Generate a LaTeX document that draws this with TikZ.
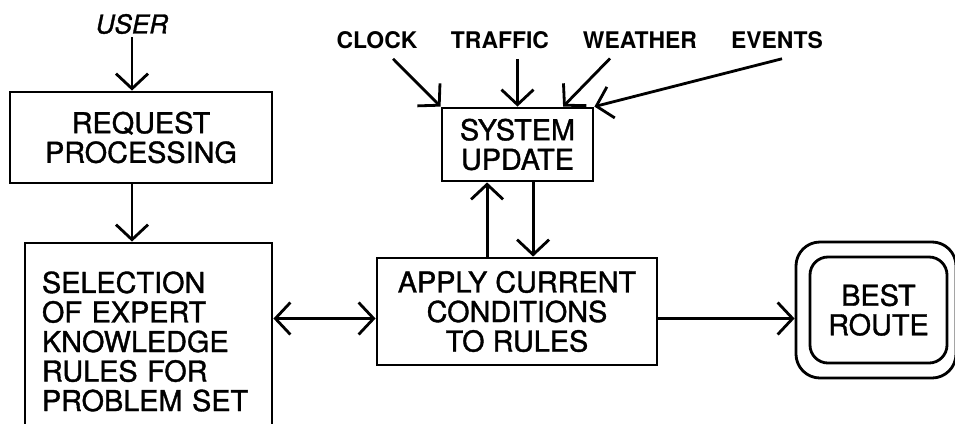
\documentclass[tikz,border=0pt]{standalone}
\usepackage{fontspec}
\setmainfont{TeX Gyre Heros}
\newfontfamily\boxfont{TeX Gyre Heros}[FakeBold=1.2]
\usepackage{tikz}
\usetikzlibrary{arrows.meta, positioning, calc, fit}
\tikzset{
  box/.style={rectangle, draw, line width=2pt, align=center, inner sep=0pt, font=\boxfont\fontsize{20.5}{21}\selectfont},
  roundbox/.style={box, rounded corners=0.45cm},
  arrow/.style={-{Straight Barb[length=0.375cm, width=0.8cm]}, line width=2pt},
  dblarrow/.style={{Straight Barb[length=0.375cm, width=0.8cm]}-{Straight Barb[length=0.375cm, width=0.8cm]}, line width=2pt},
  feed/.style={font=\bfseries\fontsize{16.3}{18}\selectfont, inner sep=7pt}
}

\begin{document}
\begin{tikzpicture}[x=0.025cm, y=-0.025cm]
  \clip (0,0) rectangle (955,423);

  % Request side
  \node[font=\boxfont\itshape\fontsize{18.5}{20}\selectfont, inner sep=2pt] (user) at (132,24) {USER};
  \node[box, minimum width=6.55cm, minimum height=2.275cm] (req) at (141,137.5) {REQUEST\\PROCESSING};
  \node[box, minimum width=6.175cm, minimum height=4.925cm, text width=5.325cm, align=left] (sel) at (148.5,341.5) {SELECTION\\OF EXPERT\\KNOWLEDGE\\RULES FOR\\PROBLEM SET};

  % Rules and updates
  \node[box, minimum width=7cm, minimum height=2.675cm] (apply) at (517,311.5) {APPLY CURRENT\\CONDITIONS\\TO RULES};
  \node[box, minimum width=3.775cm, minimum height=1.825cm] (sys) at (517.5,144.5) {SYSTEM\\UPDATE};

  % Result
  \node[draw, line width=2pt, rounded corners=0.6cm, minimum width=4cm, minimum height=3.4cm] (bestframe) at (876,310) {};
  \node[roundbox, minimum width=3.425cm, minimum height=2.65cm] (best) at (878.5,310) {BEST\\ROUTE};

  % Outside feeds
  \node[feed] (clock) at (377,40) {CLOCK};
  \node[feed] (traffic) at (500,40) {TRAFFIC};
  \node[feed] (weather) at (640,40) {WEATHER};
  \node[feed] (events) at (777,40) {EVENTS};

  \draw[arrow] ([xshift=0.4cm]clock.south) -- (sys.north west);
  \draw[arrow] (traffic.south -| sys.north) -- (sys.north);
  \draw[arrow] ([xshift=-0.75cm]weather.south) -- ([xshift=1.14cm]sys.north);
  \draw[arrow] ([xshift=0.125cm]events.south) -- (sys.north east);

  % Flow
  \draw[arrow] (user.south) -- (user.south |- req.north);
  \draw[arrow] (req.south -| user.south) -- (sel.north -| user.south);

  \coordinate (link) at ([yshift=-0.175cm]apply.west);
  \coordinate (out) at ([yshift=-0.175cm]apply.east);
  \draw[dblarrow] (link -| sel.east) -- (link);
  \draw[arrow] (out) -- (out -| bestframe.west);

  \coordinate (upx) at ([xshift=-0.76cm]sys.south);
  \coordinate (downx) at ([xshift=0.39cm]sys.south);
  \draw[arrow] (upx |- apply.north) -- (upx);
  \draw[arrow] (downx) -- (downx |- apply.north);
\end{tikzpicture}
\end{document}
